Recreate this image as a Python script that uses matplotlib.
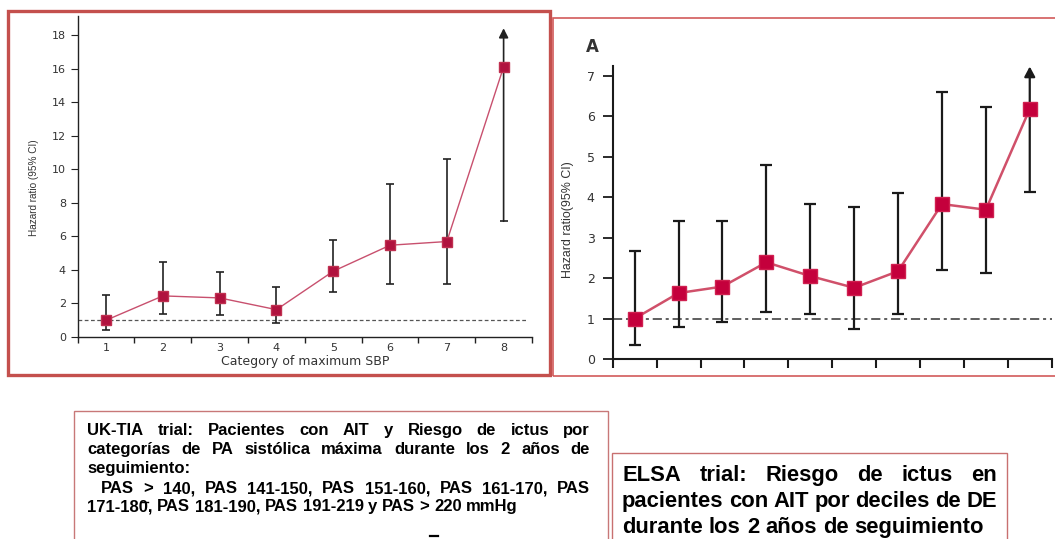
import matplotlib
matplotlib.use('Agg')
import matplotlib.pyplot as plt
from matplotlib.patches import Rectangle
from matplotlib.lines import Line2D
import numpy as np

W, H = 1055, 539

# UK-TIA: hazard ratio por categoria de PAS maxima (la ultima con flecha)
uk_cat = [1, 2, 3, 4, 5, 6, 7, 8]
uk_hr = [1.0, 2.45, 2.33, 1.63, 3.92, 5.47, 5.69, 16.1]
uk_lo = [0.4, 1.39, 1.31, 0.86, 2.71, 3.16, 3.16, 6.9]
uk_hi = [2.53, 4.47, 3.86, 2.96, 5.77, 9.13, 10.62, 18.4]
uk_yticks = [0, 2, 4, 6, 8, 10, 12, 14, 16, 18]

# ELSA: hazard ratio por deciles de DE
elsa_dec = [1, 2, 3, 4, 5, 6, 7, 8, 9, 10]
elsa_hr = [1.0, 1.63, 1.79, 2.39, 2.05, 1.76, 2.17, 3.83, 3.69, 6.18]
elsa_lo = [0.35, 0.8, 0.92, 1.15, 1.1, 0.73, 1.1, 2.21, 2.13, 4.14]
elsa_hi = [2.67, 3.42, 3.42, 4.8, 3.84, 3.76, 4.11, 6.61, 6.22, 7.23]
elsa_yticks = [0, 1, 2, 3, 4, 5, 6, 7]

# textos de los recuadros: (linea, justificada)
uk_text = [
    ("UK-TIA trial: Pacientes con AIT y Riesgo de ictus por", True),
    ("categorías de PA sistólica máxima durante los 2 años de", True),
    ("seguimiento:", False),
    ("PAS > 140, PAS 141-150, PAS 151-160, PAS 161-170, PAS", True),
    ("171-180, PAS 181-190, PAS 191-219 y PAS > 220 mmHg", False),
]
elsa_text = [
    ("ELSA trial: Riesgo de ictus en", True),
    ("pacientes con AIT por deciles de DE", True),
    ("durante los 2 años de seguimiento", False),
]


def fx(x):
    return x / W


def fy(y):
    return 1 - y / H


def px_axes(x0, x1, ytop, ybot):
    return [fx(x0), fy(ybot), (x1 - x0) / W, (ybot - ytop) / H]


fig = plt.figure(figsize=(W / 100, H / 100), dpi=100)
fig.patch.set_facecolor('white')

# ---------------- left chart (UK-TIA) ----------------
ax1 = fig.add_axes(px_axes(77.7, 532, 15.7, 337))
ax1.set_xlim(0.5, 8.5)
ax1.set_ylim(0, 19.15)
for s in ['top', 'right']:
    ax1.spines[s].set_visible(False)
for s in ['left', 'bottom']:
    ax1.spines[s].set_linewidth(1.0)
    ax1.spines[s].set_color('#222222')

ax1.axhline(1, xmin=0, xmax=0.99, color='#555555', lw=0.9, ls=(0, (3, 2)), zorder=1)

n = len(uk_cat) - 1
hr = np.array(uk_hr)
ax1.errorbar(uk_cat[:n], uk_hr[:n],
             yerr=[hr[:n] - np.array(uk_lo[:n]), np.array(uk_hi[:n]) - hr[:n]],
             fmt='none', ecolor='#222222', elinewidth=1.2, capsize=3.2, capthick=1.2, zorder=2)
ax1.annotate('', xy=(uk_cat[n], uk_hi[n]), xytext=(uk_cat[n], uk_lo[n]),
             arrowprops=dict(arrowstyle='-|>,head_length=0.55,head_width=0.28',
                             color='#222222', lw=1.2, shrinkA=0, shrinkB=0), zorder=2)
ax1.plot([uk_cat[n]], [uk_lo[n]], marker='_', ms=6.4, mew=1.2, color='#222222', zorder=2)
ax1.plot(uk_cat, uk_hr, color='#c8506e', lw=1.0, marker='s', ms=7.8,
         mfc='#b0123e', mec='#c03050', zorder=3)

ax1.set_yticks(uk_yticks)
ax1.set_xticks(uk_cat)
ax1.set_xticks(np.arange(0.5, 9, 1), minor=True)
ax1.tick_params(axis='y', direction='out', length=5, width=0.8, pad=3.5,
                labelsize=8, colors='#222222', labelcolor='#333333')
ax1.tick_params(axis='x', which='major', length=0, pad=4.5, labelsize=8, labelcolor='#333333')
ax1.tick_params(axis='x', which='minor', direction='out', length=4.5, width=1.0, color='#222222')
ax1.set_ylabel('Hazard ratio (95% CI)', family='Liberation Sans', fontsize=7.2,
               color='#333333', va='center')
ax1.yaxis.set_label_coords((34 - 77.7) / (532 - 77.7), (337 - 188) / (337 - 15.7))
ax1.set_xlabel('Category of maximum SBP', fontsize=9, color='#333333', va='center')
ax1.xaxis.set_label_coords(0.5, (337 - 361) / (337 - 15.7))

# ---------------- right chart (ELSA) ----------------
ax2 = fig.add_axes(px_axes(612.7, 1051.7, 65.7, 359))
ax2.set_xlim(0.5, 10.5)
ax2.set_ylim(0, 7.25)
for s in ['top', 'right']:
    ax2.spines[s].set_visible(False)
for s in ['left', 'bottom']:
    ax2.spines[s].set_linewidth(1.5)
    ax2.spines[s].set_color('#1a1a1a')

ax2.axhline(1, color='#333333', lw=1.1, ls=(0, (6, 2.5, 2, 2.5)), zorder=1)

m = len(elsa_dec) - 1
ehr = np.array(elsa_hr)
ax2.errorbar(elsa_dec[:m], elsa_hr[:m],
             yerr=[ehr[:m] - np.array(elsa_lo[:m]), np.array(elsa_hi[:m]) - ehr[:m]],
             fmt='none', ecolor='#1a1a1a', elinewidth=1.6, capsize=4, capthick=1.6, zorder=2)
ax2.annotate('', xy=(elsa_dec[m], elsa_hi[m]), xytext=(elsa_dec[m], elsa_lo[m]),
             arrowprops=dict(arrowstyle='-|>,head_length=0.6,head_width=0.32',
                             color='#1a1a1a', lw=1.6, shrinkA=0, shrinkB=0), zorder=2)
ax2.plot([elsa_dec[m]], [elsa_lo[m]], marker='_', ms=8, mew=1.6, color='#1a1a1a', zorder=2)
ax2.plot(elsa_dec, elsa_hr, color='#d0506a', lw=1.8, marker='s', ms=9.5,
         mfc='#c4003c', mec='#d02050', zorder=3)

ax2.set_yticks(elsa_yticks)
ax2.set_xticks(np.arange(0.5, 11, 1))
ax2.set_xticklabels([])
ax2.tick_params(axis='y', direction='out', length=7, width=1.3, pad=6,
                labelsize=9, colors='#1a1a1a', labelcolor='#333333')
ax2.tick_params(axis='x', direction='out', length=6.5, width=1.5, color='#1a1a1a')
ax2.set_ylabel('Hazard ratio(95% CI)', family='Liberation Sans', fontsize=8.9,
               color='#333333', va='center')
ax2.yaxis.set_label_coords((567.7 - 612.7) / (1051.7 - 612.7), (359 - 220) / (359 - 65.7))
fig.text(fx(592), fy(47), 'A', fontsize=12, fontweight='bold', color='#333333',
         ha='center', va='center')

# ---------------- borders ----------------
def frame(x0, y0, x1, y1, color, lw):
    fig.add_artist(Rectangle((fx(x0), fy(y1)), (x1 - x0) / W, (y1 - y0) / H,
                             transform=fig.transFigure, fill=False, ec=color, lw=lw))


frame(8, 11, 550, 375, '#c4504d', 2.4)
frame(552.5, 18, 1062, 376, '#d25a5a', 1.2)
frame(74, 411, 608, 560, '#c87878', 1.0)
frame(612, 453, 1007, 560, '#c87070', 1.0)

# ---------------- text boxes ----------------
renderer = fig.canvas.get_renderer()


def draw_lines(lines, x0, x1, baselines, size, indent=None):
    # una palabra por texto, repartidas para justificar la linea
    props = dict(fontsize=size, fontweight='bold', family='Liberation Sans', color='black')
    fp = matplotlib.font_manager.FontProperties(family='Liberation Sans', weight='bold', size=size)
    wa = renderer.get_text_width_height_descent('a a', fp, ismath=False)[0]
    wb = renderer.get_text_width_height_descent('aa', fp, ismath=False)[0]
    space = wa - wb
    for i, ((line, just), yb) in enumerate(zip(lines, baselines)):
        start = x0 + (indent.get(i, 0) if indent else 0)
        words = line.split(' ')
        widths = [renderer.get_text_width_height_descent(w, fp, ismath=False)[0] for w in words]
        gap = (x1 - start - sum(widths)) / (len(words) - 1) if just and len(words) > 1 else space
        x = start
        for w, wd in zip(words, widths):
            fig.text(fx(x), fy(yb), w, va='baseline', ha='left', **props)
            x += wd + gap


draw_lines(uk_text, 87, 590, [435, 454, 473, 493, 511], 12, indent={3: 14})
draw_lines(elsa_text, 622, 997, [481, 507, 533], 15.8)

# marcas sueltas del original
fig.add_artist(Line2D([fx(141), fx(148)], [fy(501.5), fy(501.5)], transform=fig.transFigure,
                      color='black', lw=1.0))
fig.add_artist(Line2D([fx(430), fx(438)], [fy(535.5), fy(535.5)], transform=fig.transFigure,
                      color='black', lw=1.6))

fig.savefig('out.png', dpi=100)
